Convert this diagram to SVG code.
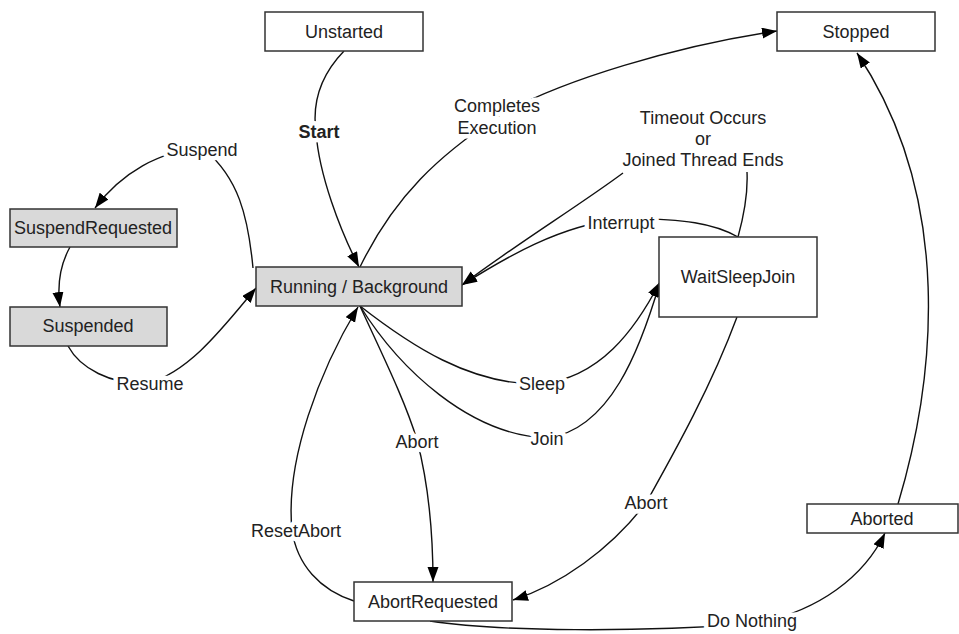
<svg xmlns="http://www.w3.org/2000/svg" width="959" height="634" viewBox="0 0 959 634">
  <style>
    .box { fill: #ffffff; stroke: #333333; stroke-width: 1.5; }
    .box.gray { fill: #d9d9d9; }
    .name { font-family: "Liberation Sans", Arial, sans-serif; font-size: 18px; fill: #222222; text-anchor: middle; }
    .edge { fill: none; stroke: #111111; stroke-width: 1.4; marker-end: url(#arrow); }
    .edge.plain { marker-end: none; }
    .lbl { font-family: "Liberation Sans", Arial, sans-serif; font-size: 18px; fill: #222222; text-anchor: middle;
           stroke: #ffffff; stroke-width: 9; stroke-linejoin: round; paint-order: stroke; }
    .bold { font-weight: bold; }
  </style>
  <defs>
    <marker id="arrow" markerUnits="userSpaceOnUse" markerWidth="16" markerHeight="12" refX="15" refY="5.5" orient="auto">
      <path d="M0,0 L15,5.5 L0,11 Z" fill="#000000"/>
    </marker>
  </defs>

  <g id="connectors">
    <!-- Unstarted -> Running -->
    <path class="edge" d="M344,51 C316,80 313,110 316,132 C319,175 340,230 359,267"/>
    <!-- Running -> Stopped -->
    <path class="edge" d="M360,267 C395,195 440,155 497,117 C560,80 680,45 777,31"/>
    <!-- Running -> SuspendRequested -->
    <path class="edge" d="M253,268 C248,215 238,178 205,150 C160,148 120,175 95,208"/>
    <!-- SuspendRequested -> Suspended -->
    <path class="edge" d="M70,247 C60,265 57,285 60,307"/>
    <!-- Suspended -> Running -->
    <path class="edge" d="M68,346 C80,368 110,385 148,383 C190,372 225,325 256,288"/>
    <!-- WaitSleepJoin -> Running (Interrupt) -->
    <path class="edge" d="M738,237 C715,224 685,218 621,219 C560,225 505,258 462,285"/>
    <!-- WaitSleepJoin -> Running (timeout / joined thread ends) -->
    <path class="edge" d="M738,237 C744,215 748,192 747,172 M623,173 C580,205 515,245 462,285"/>
    <!-- Running -> WaitSleepJoin (Sleep) -->
    <path class="edge" d="M360,306 C410,345 470,385 540,384 C600,378 635,330 660,282"/>
    <!-- Running -> WaitSleepJoin (Join) -->
    <path class="edge" d="M360,306 C400,370 470,435 547,438 C610,430 640,350 660,282"/>
    <!-- Running -> AbortRequested -->
    <path class="edge" d="M360,306 C380,350 405,400 417,440 C430,490 433,540 433,582"/>
    <!-- AbortRequested -> Running (ResetAbort) -->
    <path class="edge" d="M354,601 C320,590 297,565 292,530 C285,460 320,370 358,307"/>
    <!-- WaitSleepJoin -> AbortRequested -->
    <path class="edge" d="M737,317 C710,390 670,460 646,503 C610,550 560,585 513,600"/>
    <!-- AbortRequested -> Aborted -->
    <path class="edge" d="M430,621 C500,632 640,632 752,624 C820,612 865,575 885,533"/>
    <!-- Aborted -> Stopped -->
    <path class="edge" d="M898,504 C935,380 955,200 857,53"/>

    <text class="lbl bold" x="319" y="138">Start</text>
    <text class="lbl" x="497" y="112">Completes</text>
    <text class="lbl" x="497" y="134">Execution</text>
    <text class="lbl" x="703" y="124">Timeout Occurs</text>
    <text class="lbl" x="703" y="145">or</text>
    <text class="lbl" x="703" y="166">Joined Thread Ends</text>
    <text class="lbl" x="621" y="229">Interrupt</text>
    <text class="lbl" x="202" y="156">Suspend</text>
    <text class="lbl" x="150" y="390">Resume</text>
    <text class="lbl" x="542" y="390">Sleep</text>
    <text class="lbl" x="547" y="445">Join</text>
    <text class="lbl" x="417" y="448">Abort</text>
    <text class="lbl" x="296" y="537">ResetAbort</text>
    <text class="lbl" x="646" y="509">Abort</text>
    <text class="lbl" x="752" y="627">Do Nothing</text>
  </g>

  <g id="unstarted">
    <rect class="box" x="265" y="12" width="158" height="39"/>
    <text class="name" x="344" y="38">Unstarted</text>
  </g>
  <g id="stopped">
    <rect class="box" x="777" y="12" width="158" height="39"/>
    <text class="name" x="856" y="38">Stopped</text>
  </g>
  <g id="running">
    <rect class="box gray" x="256" y="267" width="206" height="39"/>
    <text class="name" x="359" y="293">Running / Background</text>
  </g>
  <g id="suspend-requested">
    <rect class="box gray" x="10" y="209" width="167" height="38"/>
    <text class="name" x="93" y="234">SuspendRequested</text>
  </g>
  <g id="suspended">
    <rect class="box gray" x="10" y="307" width="157" height="39"/>
    <text class="name" x="88" y="332">Suspended</text>
  </g>
  <g id="wait-sleep-join">
    <rect class="box" x="659" y="237" width="158" height="80"/>
    <text class="name" x="738" y="283">WaitSleepJoin</text>
  </g>
  <g id="abort-requested">
    <rect class="box" x="354" y="582" width="158" height="39"/>
    <text class="name" x="433" y="608">AbortRequested</text>
  </g>
  <g id="aborted">
    <rect class="box" x="807" y="504" width="151" height="29"/>
    <text class="name" x="882" y="525">Aborted</text>
  </g>
</svg>
